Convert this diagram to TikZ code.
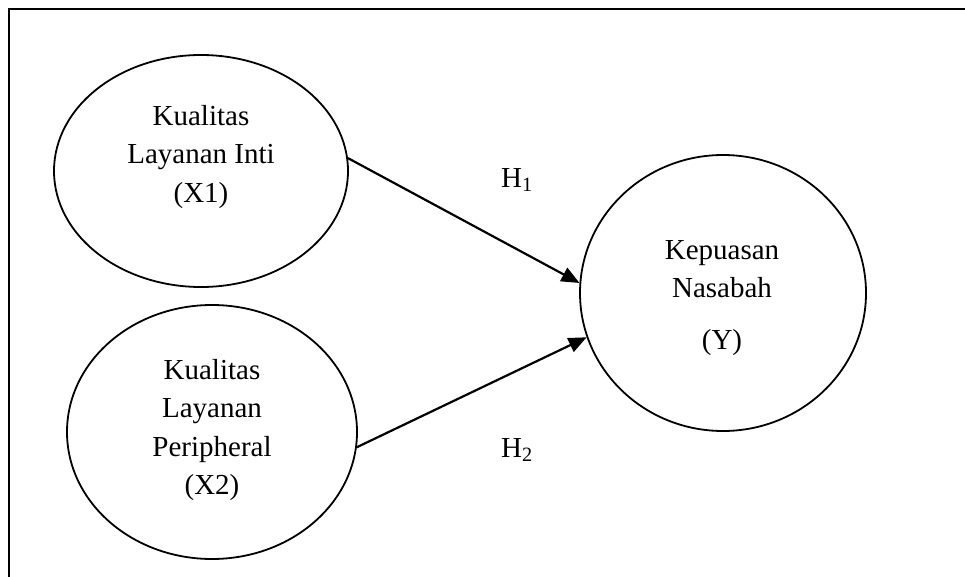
\documentclass[tikz,border=0pt]{standalone}
\usepackage{fontspec}
\setmainfont{Liberation Serif}
\usetikzlibrary{shapes,arrows.meta,positioning}

\begin{document}
\begin{tikzpicture}[x=1pt, y=-1pt,
    var/.style={draw, ellipse, line width=1.8pt, inner sep=0pt},
    lbl/.style={align=center, font=\fontsize{29}{38.5}\selectfont},
    hyp/.style={-{Triangle[length=18pt,width=15pt]}, line width=2.2pt}]
    \useasboundingbox (0,0) rectangle (965,577);

    % Frame
    \draw[line width=2.5pt] (9,577) -- (9,9) -- (965,9);

    % Variables
    \node[var, minimum width=294pt, minimum height=232pt] (x1) at (201,171) {};
    \node[var, minimum width=290pt, minimum height=254pt] (x2) at (212,432) {};
    \node[var, minimum width=286pt, minimum height=276pt] (y) at (723,293) {};

    \node[lbl] (tx1) at (201,157) {Kualitas\\Layanan Inti\\(X1)};
    \node[lbl] (tx2) at (212,430) {Kualitas\\Layanan\\Peripheral\\(X2)};
    \node[lbl] (ty) at (722,298) {Kepuasan\\Nasabah\\[13pt](Y)};

    % Hypotheses
    \draw[hyp] (x1.5) -- (y.176);
    \draw[hyp] (x2.354) -- (y.198);
    \node[lbl] (h1) at (517,180) {H\textsubscript{1}};
    \node[lbl] (h2) at (517,450) {H\textsubscript{2}};
\end{tikzpicture}
\end{document}
